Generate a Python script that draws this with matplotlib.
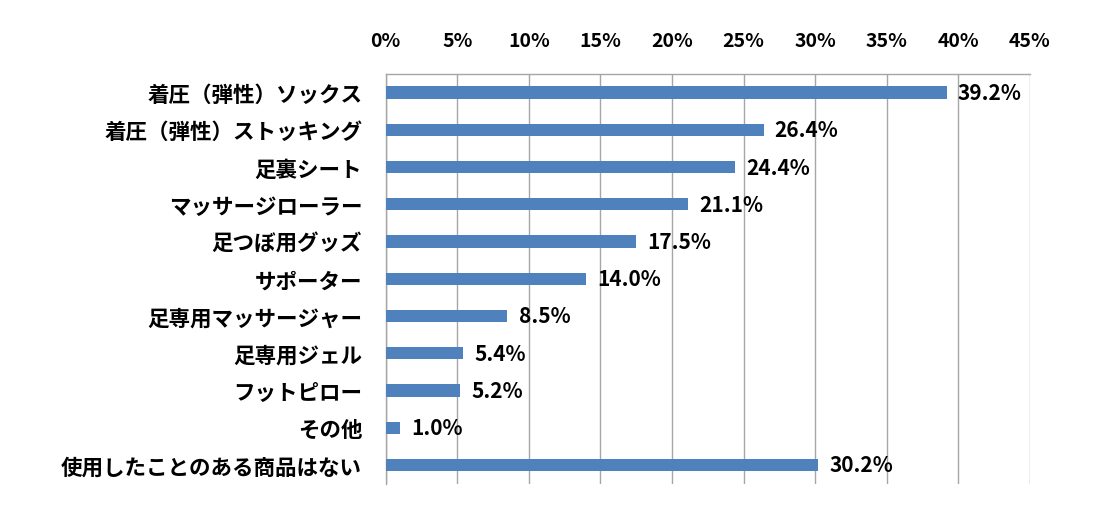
import matplotlib.pyplot as plt
import numpy as np

plt.rcParams['font.family'] = ['Liberation Sans Narrow', 'Noto Sans CJK JP', 'DejaVu Sans']

categories = [
    "着圧（弾性）ソックス",
    "着圧（弾性）ストッキング",
    "足裏シート",
    "マッサージローラー",
    "足つぼ用グッズ",
    "サポーター",
    "足専用マッサージャー",
    "足専用ジェル",
    "フットピロー",
    "その他",
    "使用したことのある商品はない",
]
values = [39.2, 26.4, 24.4, 21.1, 17.5, 14.0, 8.5, 5.4, 5.2, 1.0, 30.2]
ticks = [0, 5, 10, 15, 20, 25, 30, 35, 40, 45]

fig = plt.figure(figsize=(10.99, 5.10), dpi=100)
ax = fig.add_axes([0.351, 0.05, 0.586, 0.803])

y = np.arange(len(categories))
ax.barh(y, values, height=0.33, color="#4F81BD", zorder=3)

for yi, v in zip(y, values):
    ax.annotate(f"{v:.1f}%", (v, yi), xytext=(8, 0), textcoords="offset points",
                va="center", ha="left", fontsize=15, fontweight="bold")

ax.set_xlim(0, 45)
ax.set_ylim(len(categories) - 0.5, -0.5)
ax.set_xticks(ticks)
ax.set_xticklabels([f"{t}%" for t in ticks], fontsize=14, fontweight="bold")
ax.xaxis.tick_top()
ax.set_yticks(y)
ax.set_yticklabels(categories, fontsize=15.5, fontweight="bold")
ax.tick_params(axis="both", length=0)
ax.tick_params(axis="x", pad=17)
ax.tick_params(axis="y", pad=17)

ax.grid(axis="x", color="#A6A6A6", linewidth=1, zorder=0)
for side in ["bottom", "right"]:
    ax.spines[side].set_visible(False)
for side in ["top", "left"]:
    ax.spines[side].set_color("#A6A6A6")
    ax.spines[side].set_linewidth(1)

fig.savefig("out.png", dpi=100)
